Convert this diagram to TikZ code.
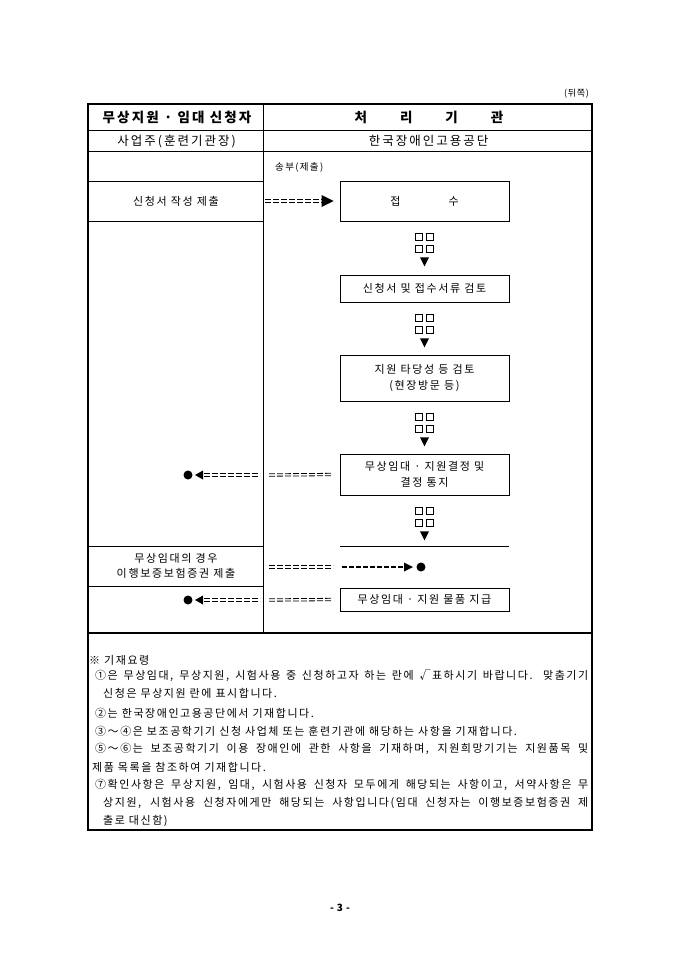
\documentclass[tikz,border=0pt]{standalone}
\usepackage{fontspec}
\setmainfont{Noto Sans CJK KR}[LetterSpace=8]
\newfontfamily\fbody{Noto Sans CJK KR}[LetterSpace=15]
\newfontfamily\fnote{Noto Sans CJK KR}[LetterSpace=14]
\newfontfamily\fhead{Noto Sans CJK KR}[LetterSpace=16]
\usetikzlibrary{calc}
\tikzset{
  thinline/.style={line width=0.6pt},
  frameline/.style={line width=1.4pt},
  pbox/.style={draw, line width=0.7pt, minimum width=169pt, inner sep=0pt, align=center, font=\fbody\fontsize{11}{15.5}\selectfont},
  eqs/.style={draw, line width=0.8pt, dash pattern=on 6pt off 2pt},
  dsh/.style={draw, line width=1.7pt, dash pattern=on 4.5pt off 2.5pt},
  dot/.style={circle, fill, inner sep=0pt, minimum size=9pt},
  txt/.style={inner sep=0pt, font=\fbody\fontsize{11}{15.5}\selectfont, align=center},
  note/.style={inner sep=0pt, anchor=west, font=\fnote\fontsize{11}{12}\selectfont},
  ind/.pic={
    \draw[line width=0.55pt] (-9,0) rectangle (-2,7) (2,0) rectangle (9,7)
                             (-9,12) rectangle (-2,19) (2,12) rectangle (9,19);
    \fill (-4.5,24) -- (4.5,24) -- (0,33) -- cycle;
  }
}
\newcommand{\eqline}[2]{%
  \draw[eqs, transform canvas={yshift=1.2pt}] #1 -- #2;
  \draw[eqs, transform canvas={yshift=-1.2pt}] #1 -- #2;}
\begin{document}
\begin{tikzpicture}[x=1pt,y=-1pt]
\fill[white] (0,0) rectangle (680,962);
\useasboundingbox (0,0) rectangle (680,962);

% page label
\node[inner sep=0pt, anchor=east, font=\fontsize{9}{11}\selectfont] (back) at (589,94) {(뒤쪽)};

% table frame
\draw[frameline] (88,104) rectangle (592,830);
\draw[thinline] (88,130) -- (592,130);
\draw[thinline] (88,151) -- (592,151);
\draw[thinline] (263,104) -- (263,633);
\draw[thinline] (88,181) -- (263,181);
\draw[thinline] (88,221) -- (263,221);
\draw[thinline] (88,546) -- (263,546);
\draw[thinline] (88,586) -- (263,586);
\draw[frameline] (88,633) -- (592,633);

% header
\node[txt, font=\fhead\fontsize{13.5}{15}\selectfont\bfseries] (h1) at (177,117) {무상지원 · 임대 신청자};
\node[txt, font=\fhead\fontsize{13.5}{15}\selectfont\bfseries] (h2) at (429,117) {처\hspace{33pt}리\hspace{33pt}기\hspace{33pt}관};
\node[txt, font=\fhead\fontsize{12.5}{14}\selectfont] (h3) at (176.5,141) {사업주(훈련기관장)};
\node[txt, font=\fhead\fontsize{12.5}{14}\selectfont] (h4) at (428.5,141) {한국장애인고용공단};
\node[inner sep=0pt, anchor=west, font=\fnote\fontsize{9.5}{10}\selectfont] (send) at (275,167) {송부(제출)};

% left column texts
\node[txt] (l1) at (176,201) {신청서 작성 제출};
\node[txt] (l2) at (176,566) {무상임대의 경우\\이행보증보험증권 제출};

% process boxes
\node[pbox, minimum height=40pt] (jeob) at (424.5,201) {접\hspace{48pt}수};
\node[pbox, minimum height=27pt] (rev) at (424.5,288.5) {신청서 및 접수서류 검토};
\node[pbox, minimum height=46pt] (val) at (424.5,378) {지원 타당성 등 검토\\(현장방문 등)};
\node[pbox, minimum height=41pt] (dec) at (424.5,474.5) {무상임대 · 지원결정 및\\결정 통지};
\node[pbox, minimum height=23pt] (pay) at (424.5,599.5) {무상임대 · 지원 물품 지급};
\coordinate (endL) at (340,546);
\coordinate (endR) at (509,546);
\draw[thinline] (endL) -- (endR);

% flow indicators
\pic at ($(jeob.south)+(0,12)$) {ind};
\pic at ($(rev.south)+(0,12)$) {ind};
\pic at ($(val.south)+(0,12)$) {ind};
\pic at ($(dec.south)+(0,12)$) {ind};

% row: submission -> reception
\coordinate (s1) at (265,201);
\eqline{(s1)}{([xshift=-18pt]jeob.west)}
\fill ([xshift=-18pt,yshift=6pt]jeob.west) -- ([xshift=-6pt]jeob.west) -- ([xshift=-18pt,yshift=-6pt]jeob.west) -- cycle;

% row: decision notice -> applicant
\coordinate (f1) at (269,475);
\eqline{(f1)}{([xshift=-7.5pt]dec.west)}
\node[dot] (d1) at (188,475) {};
\coordinate (e1) at (260,475);
\eqline{([xshift=16pt]d1.center)}{(e1)}
\fill ([xshift=15pt,yshift=4.5pt]d1.center) -- ([xshift=7pt]d1.center) -- ([xshift=15pt,yshift=-4.5pt]d1.center) -- cycle;

% row: guarantee insurance -> agency
\coordinate (g1) at (269,567);
\coordinate (g2) at (333,567);
\eqline{(g1)}{(g2)}
\node[dot] (d3) at (421,567) {};
\coordinate (g3) at (342,567);
\draw[dsh] (g3) -- ([xshift=-17pt]d3.center);
\fill ([xshift=-17pt,yshift=4.5pt]d3.center) -- ([xshift=-8pt]d3.center) -- ([xshift=-17pt,yshift=-4.5pt]d3.center) -- cycle;

% row: supply -> applicant
\coordinate (f2) at (269,600);
\eqline{(f2)}{([xshift=-7.5pt]pay.west)}
\node[dot] (d2) at (188,600) {};
\coordinate (e2) at (260,600);
\eqline{([xshift=16pt]d2.center)}{(e2)}
\fill ([xshift=15pt,yshift=4.5pt]d2.center) -- ([xshift=7pt]d2.center) -- ([xshift=15pt,yshift=-4.5pt]d2.center) -- cycle;

% notes
\node[note] (n0) at (89,660) {※ 기재요령};
\node[note] (n1) at (95,676) {\makebox[493pt][s]{①은 무상임대, 무상지원, 시험사용 중 신청하고자 하는 란에 √표하시기 바랍니다. 맞춤기기}};
\node[note] (n2) at (103,693) {신청은 무상지원 란에 표시합니다.};
\node[note] (n3) at (95,713) {②는 한국장애인고용공단에서 기재합니다.};
\node[note] (n4) at (95,731) {③～④은 보조공학기기 신청 사업체 또는 훈련기관에 해당하는 사항을 기재합니다.};
\node[note] (n5) at (95,749) {\makebox[493pt][s]{⑤～⑥는 보조공학기기 이용 장애인에 관한 사항을 기재하며, 지원희망기기는 지원품목 및}};
\node[note] (n6) at (92,767) {제품 목록을 참조하여 기재합니다.};
\node[note] (n7) at (95,785) {\makebox[493pt][s]{⑦확인사항은 무상지원, 임대, 시험사용 신청자 모두에게 해당되는 사항이고, 서약사항은 무}};
\node[note] (n8) at (103,803) {\makebox[485pt][s]{상지원, 시험사용 신청자에게만 해당되는 사항입니다(임대 신청자는 이행보증보험증권 제}};
\node[note] (n9) at (103,821) {출로 대신함)};

% page number
\node[txt, font=\fontsize{10}{12}\selectfont\bfseries] (pg) at (340,908) {- 3 -};
\end{tikzpicture}
\end{document}
